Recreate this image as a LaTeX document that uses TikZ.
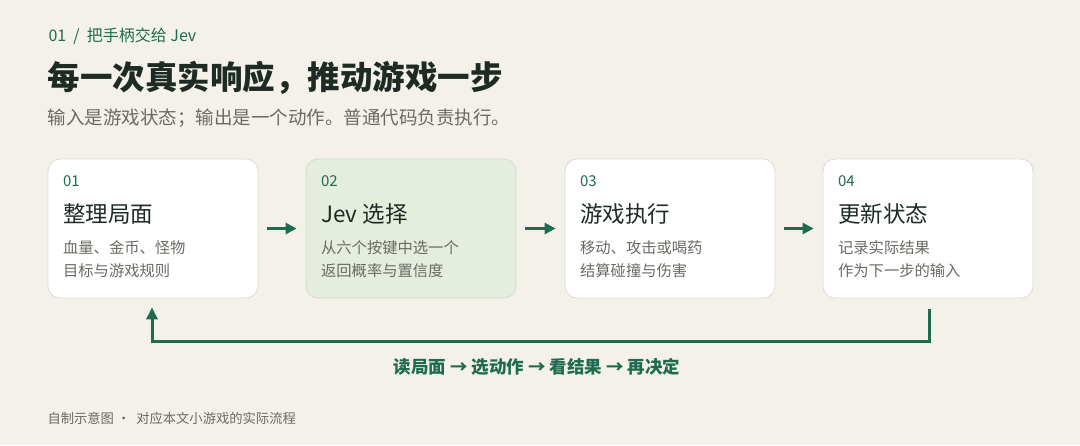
\documentclass[tikz,border=0pt]{standalone}
\usepackage{fontspec}
\setmainfont{Noto Sans CJK SC}
\usepackage{xcolor}
\usetikzlibrary{positioning,calc,arrows.meta}

\definecolor{bgpaper}{HTML}{F4F1EA}
\definecolor{leafgreen}{HTML}{1F6B4F}
\definecolor{inkdark}{HTML}{1E2B24}
\definecolor{inkgray}{HTML}{6A6A64}
\definecolor{cardline}{HTML}{DCDCD4}
\definecolor{mintfill}{HTML}{E5EDDF}
\definecolor{mintline}{HTML}{D3DDCB}

\tikzset{
    card/.style={draw=cardline, line width=0.8pt, fill=white, rounded corners=12pt,
        minimum width=210pt, minimum height=139pt, inner sep=0pt},
    stepno/.style={anchor=west, font=\fontsize{15pt}{15pt}\selectfont, text=leafgreen},
    steptitle/.style={anchor=west, font=\fontsize{22.5pt}{22.5pt}\selectfont, text=inkdark},
    stepline/.style={anchor=west, font=\fontsize{15.3pt}{15.3pt}\selectfont, text=inkgray},
    flow/.style={line width=3pt, draw=leafgreen, -{Triangle[length=11pt,width=11pt]}},
}

\begin{document}
\begin{tikzpicture}[x=1pt, y=-1pt]
    % Paper
    \fill[bgpaper] (0,0) rectangle (1080,445);
    \useasboundingbox (0,0) rectangle (1080,445);

    % Header
    \node[anchor=west, font=\fontsize{16pt}{16pt}\selectfont, text=leafgreen] (kicker) at (45,36) {01\ \ /\ \ 把手柄交给 Jev};
    \node[anchor=west, font=\fontsize{32.5pt}{32.5pt}\selectfont\bfseries, text=inkdark] (headline) at (44,78) {每一次真实响应，推动游戏一步};
    \node[anchor=west, font=\fontsize{18.5pt}{18.5pt}\selectfont, text=inkgray] (subline) at (44,118) {输入是游戏状态；输出是一个动作。普通代码负责执行。};

    % Cards
    \node[card] (read) at (153,228.5) {};
    \node[card, fill=mintfill, draw=mintline] (pick) at (411,228.5) {};
    \node[card] (run) at (670,228.5) {};
    \node[card] (update) at (928,228.5) {};

    % Card texts
    \foreach \c/\n/\t/\a/\b in {read/01/整理局面/血量、金币、怪物/目标与游戏规则,
                                pick/02/Jev 选择/从六个按键中选一个/返回概率与置信度,
                                run/03/游戏执行/移动、攻击或喝药/结算碰撞与伤害,
                                update/04/更新状态/记录实际结果/作为下一步的输入} {
        \node[stepno] (\c-no) at ($(\c.west)+(12,-47.5)$) {\n};
        \node[steptitle] (\c-title) at ($(\c.west)+(12,-14.5)$) {\t};
        \node[stepline] (\c-a) at ($(\c.west)+(12,19.5)$) {\a};
        \node[stepline] (\c-b) at ($(\c.west)+(12,42.5)$) {\b};
    }

    % Forward arrows
    \draw[flow] ($(read.east)+(9,0)$) -- ($(pick.west)+(-9,0)$);
    \draw[flow] ($(pick.east)+(9,0)$) -- ($(run.west)+(-9,0)$);
    \draw[flow] ($(run.east)+(9,0)$) -- ($(update.west)+(-9,0)$);

    % Loop back
    \coordinate (loopstart) at ($(update.south)+(1,11)$);
    \coordinate (loopend) at ($(read.south)+(-1,9)$);
    \draw[flow, -{Triangle[length=12pt,width=11pt]}] (loopstart) |- ($(loopstart |- 0,341)$) -| (loopend);
    \node[font=\fontsize{17.5pt}{17.5pt}\selectfont\bfseries, text=leafgreen] (looplabel) at (537,367) {读局面 → 选动作 → 看结果 → 再决定};

    % Footer
    \node[anchor=west, font=\fontsize{13.3pt}{13.3pt}\selectfont, text=inkgray] (footer) at (44,418) {自制示意图 ·\ \ 对应本文小游戏的实际流程};
\end{tikzpicture}
\end{document}
